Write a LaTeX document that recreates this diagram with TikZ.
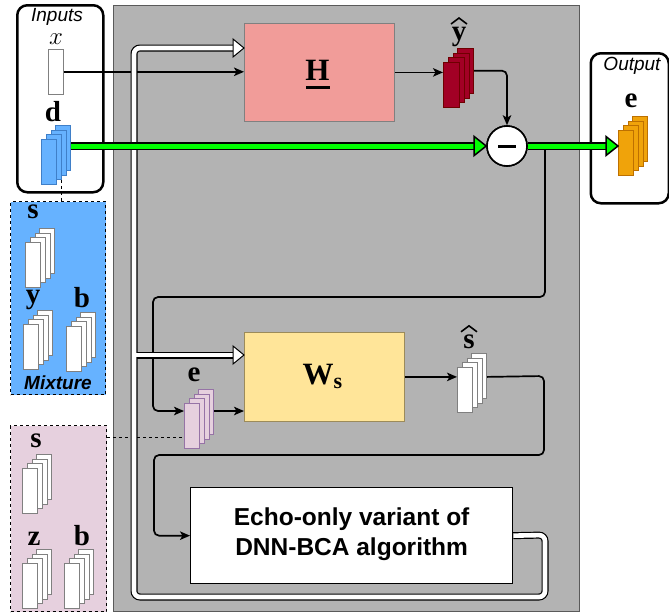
\documentclass[tikz,border=0pt]{standalone}
\usepackage{fontspec}
\setmainfont{Liberation Sans}
\newfontfamily\serifb{Liberation Serif}
\usetikzlibrary{arrows.meta}
\definecolor{grayback}{HTML}{B3B3B3}
\definecolor{grayline}{HTML}{5A5A5A}
\definecolor{hfill}{HTML}{F19C99}
\definecolor{wsfill}{HTML}{FFE599}
\definecolor{wsline}{HTML}{9C8B5A}
\definecolor{bluef}{HTML}{66B2FF}
\definecolor{bluel}{HTML}{3F7FC8}
\definecolor{pinkf}{HTML}{E6D0DE}
\definecolor{pinkl}{HTML}{9673A6}
\definecolor{redf}{HTML}{A20025}
\definecolor{redl}{HTML}{6F0000}
\definecolor{orf}{HTML}{F0A30A}
\definecolor{orl}{HTML}{BD7000}
\definecolor{grn}{HTML}{00FF00}
\newcommand\lstack[6]{%
  \foreach \i in {3,2,1}{\node[lay, fill=#4, draw=#5, minimum width=#6pt] (#1-\i) at ({#2+4.8*\i},{#3-4.7*\i}) {};}
  \node[lay, fill=#4, draw=#5, minimum width=#6pt] (#1) at (#2,#3) {};
}
\begin{document}
\begin{tikzpicture}[x=1pt,y=-1pt,
  lay/.style={draw, minimum height=45pt, anchor=north west, inner sep=0pt, line width=0.6pt},
  blk/.style={line width=1.7pt, -{Stealth[length=10pt,width=8.5pt,inset=2.5pt]}, rounded corners=5pt},
  lbl/.style={font=\serifb\bfseries\fontsize{29}{29}\selectfont, inner sep=0pt},
  ital/.style={font=\itshape\fontsize{19}{19}\selectfont, inner sep=0pt},
  frame/.style={draw, line width=2.5pt, rounded corners=10pt, anchor=north west, inner sep=0pt},
  dbox/.style={draw, dashed, line width=1pt, anchor=north west, inner sep=0pt},
  pbox/.style={anchor=north west, inner sep=0pt},
]
\useasboundingbox (0,0) rectangle (669,614);
% main gray area
\node[pbox, fill=grayback, draw=grayline, line width=1pt, minimum width=466pt, minimum height=606pt] (main) at (113,5) {};
% side frames
\node[frame, fill=white, minimum width=86pt, minimum height=187pt] (inputs) at (16,4) {};
\node[frame, fill=white, minimum width=78pt, minimum height=150pt] (output) at (589.5,52) {};
\node[dbox, fill=bluef, minimum width=95pt, minimum height=193pt] (mix) at (10,201) {};
\node[dbox, fill=pinkf, minimum width=96pt, minimum height=186pt] (pink) at (10,425) {};
% blocks
\node[pbox, fill=hfill, draw=gray, line width=0.8pt, minimum width=150pt, minimum height=98pt] (H) at (244,23) {};
\node[font=\serifb\bfseries\fontsize{31}{31}\selectfont, inner sep=0pt] (Hlab) at ([shift={(-2,-2)}]H.center) {H};
\draw[line width=2.4pt] ([shift={(-13,15)}]H.center) -- ([shift={(11,15)}]H.center);
\node[pbox, fill=wsfill, draw=wsline, line width=0.8pt, minimum width=160pt, minimum height=89pt] (Ws) at (244,332) {};
\node[font=\serifb\bfseries\fontsize{31}{31}\selectfont, inner sep=0pt] (Wslab) at ([shift={(-2,0)}]Ws.center) {W\raisebox{-4pt}{\fontsize{22}{22}\selectfont s}};
\node[pbox, fill=white, draw=black, line width=1.3pt, minimum width=322pt, minimum height=96pt] (echo) at (190,487) {};
\node[font=\bfseries\fontsize{24.5}{30}\selectfont, align=center, inner sep=0pt] (echolab) at ([yshift=1pt]echo.center) {Echo-only variant of\\DNN-BCA algorithm};
\node[circle, fill=white, draw=black, line width=1.6pt, minimum size=40pt, inner sep=0pt] (circ) at (507,146) {};
% input x rect
\node[lay, fill=white, draw=gray, minimum width=15pt] (xin) at (48,49) {};
% stacks
\lstack{d}{41}{139}{bluef}{bluel}{15}
\lstack{yhat}{443}{62}{redf}{redl}{16}
\lstack{eout}{618}{130}{orf}{orl}{15}
\lstack{ms}{25}{242}{white}{gray}{15}
\lstack{my}{23}{324}{white}{gray}{15}
\lstack{mb}{66}{326}{white}{gray}{15}
\lstack{ein}{184}{403}{pinkf}{pinkl}{15}
\lstack{shat}{457}{367}{white}{gray}{15}
\lstack{ps}{22}{468}{white}{gray}{15}
\lstack{pz}{22}{563}{white}{gray}{15}
\lstack{pb}{64}{563}{white}{gray}{15}
% labels
\node[ital] (tin) at (57,17) {Inputs};
\node[ital] (tout) at (632,66) {Output};
\node[font=\bfseries\itshape\fontsize{19}{19}\selectfont, inner sep=0pt] (tmix) at (58,383) {Mixture};
\node[inner sep=0pt, font=\fontsize{29}{29}\selectfont] (lx) at (56,39) {$x$};
\node[lbl] (ld) at (53,112) {d};
\node[lbl] (le) at (631,101) {e};
\node[lbl] (lyhat) at (459,37) {y};
\node[lbl] (lshat) at (469,342) {s};
\draw[line width=1.6pt] ([shift={(-8,-3)}]lyhat.north) -- ([shift={(0,-9)}]lyhat.north) -- ([shift={(8,-3)}]lyhat.north);
\draw[line width=1.6pt] ([shift={(-8,-3)}]lshat.north) -- ([shift={(0,-9)}]lshat.north) -- ([shift={(8,-3)}]lshat.north);
\node[lbl] (lms) at (33,212) {s};
\node[lbl] (lmy) at (33,300) {y};
\node[lbl] (lmb) at (82,298) {b};
\node[lbl] (lps) at (36,441) {s};
\node[lbl] (lpz) at (34,539) {z};
\node[lbl] (lpb) at (82,536) {b};
\node[lbl] (lein) at (194,375) {e};
% coordinates
\coordinate (j1) at (545,146);
\coordinate (einin) at ([yshift=-8pt]ein.north west);
\coordinate (pd) at ([yshift=-12pt]pink.north east);
% dashed links
\draw[dashed, line width=1pt] (d-1.south east) -- (d-1.south east |- mix.north);
\draw[dashed, line width=1pt] (pd) -- (pd -| ein.west);
% black connectors
\draw[blk] (xin.east) -- (xin.east -| H.west);
\draw[blk] (H.east) -- (H.east -| yhat.west);
\draw[blk] (yhat-3.east) -| (circ.north);
\draw[blk] (j1) -- (545,297) -- (153,297) |- (einin);
\draw[blk, rounded corners=0pt] (einin -| ein-3.east) -- (einin -| Ws.west);
\draw[blk, rounded corners=0pt] (Ws.east) -- (Ws.east -| shat.west);
\draw[blk] (shat-3.east |- Ws.east) -- (544,376) -- (544,455) -- (154,455) |- (echo.west);
% white double connectors
\coordinate (hin) at (H.west |- 0,48);
\coordinate (wsin) at (Ws.west |- 0,355);
\draw[line width=7pt, rounded corners=6pt] (echo.east) -- (545,535) -- (545,597) -- (134,597) -- (134,48) -- ([xshift=-11pt]hin);
\draw[line width=7pt] (134,355) -- ([xshift=-11pt]wsin);
\draw[white, line width=4.6pt, rounded corners=6pt] (echo.east) -- (545,535) -- (545,597) -- (134,597) -- (134,48) -- ([xshift=-11pt]hin);
\draw[white, line width=4.6pt] (134,355) -- ([xshift=-11pt]wsin);
\draw[fill=white, line width=1pt, line join=miter] ([shift={(-11,-9)}]hin) -- (hin) -- ([shift={(-11,9)}]hin) -- cycle;
\draw[fill=white, line width=1pt, line join=miter] ([shift={(-11,-9)}]wsin) -- (wsin) -- ([shift={(-11,9)}]wsin) -- cycle;
% green connectors
\coordinate (gend) at (eout.west |- circ.east);
\draw[line width=8pt] (d-3.east |- circ.west) -- ([xshift=-11pt]circ.west);
\draw[grn, line width=5pt] (d-3.east |- circ.west) -- ([xshift=-11pt]circ.west);
\draw[fill=grn, line width=1.5pt, line join=miter] ([shift={(-12,-9.5)}]circ.west) -- (circ.west) -- ([shift={(-12,9.5)}]circ.west) -- cycle;
\draw[line width=8pt] (circ.east) -- ([xshift=-11pt]gend);
\draw[grn, line width=5pt] (circ.east) -- ([xshift=-11pt]gend);
\draw[fill=grn, line width=1.5pt, line join=miter] ([shift={(-12,-9.5)}]gend) -- (gend) -- ([shift={(-12,9.5)}]gend) -- cycle;
% circle on top
\node[circle, fill=white, draw=black, line width=1.6pt, minimum size=40pt, inner sep=0pt] at (circ.center) {};
\draw[line width=3pt] ([xshift=-9pt]circ.center) -- ([xshift=9pt]circ.center);
\end{tikzpicture}
\end{document}
